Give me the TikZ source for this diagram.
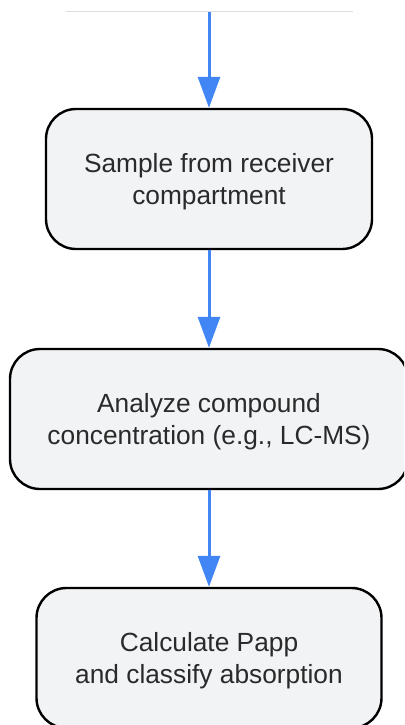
\documentclass[tikz,border=0pt]{standalone}
\usepackage{fontspec}
\setmainfont{Liberation Sans}
\usetikzlibrary{arrows.meta}
\definecolor{boxfill}{HTML}{F2F3F5}
\definecolor{arrowblue}{HTML}{4285F4}
\definecolor{txt}{HTML}{2A2A2A}
\definecolor{topline}{HTML}{DDDDDD}
\tikzset{
  stepbox/.style={draw=black, line width=2.4pt, fill=boxfill, rounded corners=30pt,
    minimum height=140pt, align=center, text=txt, inner sep=0pt, text depth=-2.5pt,
    font=\fontsize{26.3pt}{32pt}\selectfont},
  flow/.style={draw=arrowblue, line width=3pt, -{Triangle[length=31pt,width=22pt]}}
}
\begin{document}
\begin{tikzpicture}[x=1pt,y=-1pt]
\useasboundingbox (0,0) rectangle (404,725);
\clip (0,0) rectangle (404,725);
\fill[white] (0,0) rectangle (404,725);
\draw[topline, line width=1pt] (66,12) -- (353,12);
\coordinate (start) at (209,12);
\node[stepbox, minimum width=326pt] (b1) at (209,179) {Sample from receiver\\compartment};
\node[stepbox, minimum width=398pt] (b2) at (209,419) {Analyze compound\\concentration (e.g., LC-MS)};
\node[stepbox, minimum width=345pt] (b3) at (209,658) {Calculate Papp\\and classify absorption};
\draw[flow] (start) -- (b1.north);
\draw[flow] (b1.south) -- (b2.north);
\draw[flow] (b2.south) -- (b3.north);
\end{tikzpicture}
\end{document}
